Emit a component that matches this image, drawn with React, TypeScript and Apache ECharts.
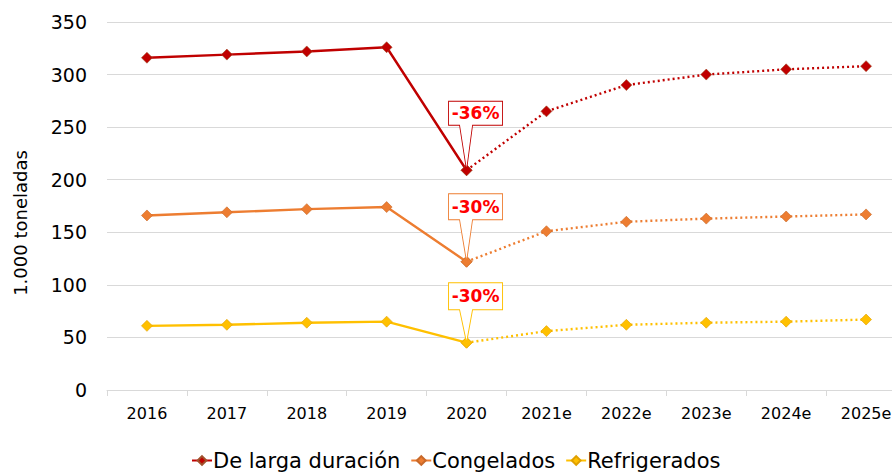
import React, { useEffect, useRef } from "react";
import * as echarts from "echarts";

const categories = ["2016", "2017", "2018", "2019", "2020", "2021e", "2022e", "2023e", "2024e", "2025e"];
const seriesNames = ["De larga duración", "Congelados", "Refrigerados"];
const largaDuracion = [316, 319, 322, 326, 209, 265, 290, 300, 305, 308];
const congelados = [166, 169, 172, 174, 122, 151, 160, 163, 165, 167];
const refrigerados = [61, 62, 64, 65, 45, 56, 62, 64, 65, 67];
const dropLabels = ["-36%", "-30%", "-30%"];
const yTicks = { min: 0, max: 350, interval: 50 };
const lastActualIndex = 4;

const colors = ["#C00000", "#ED7D31", "#FFC000"];
const markerBorders = ["#A0522D", "#C8692A", "#E0A000"];
const tailLengths = [45, 42, 33];
const boxHeights = [24, 26, 27];

function calloutPath(w: number, h: number, tail: number, tipX: number) {
  return `path://M0,0 L${w},0 L${w},${h} L${tipX + 6},${h} L${tipX},${h + tail} L${tipX - 7},${h} L0,${h} Z`;
}

export default function App() {
  const ref = useRef<HTMLDivElement>(null);
  useEffect(() => {
    if (!ref.current) return;
    const chart = echarts.init(ref.current, undefined, { renderer: "svg" });
    const all = [largaDuracion, congelados, refrigerados];
    const font = "DejaVu Sans";
    const series: any[] = [];
    all.forEach((vals, i) => {
      const solid = vals.map((v, j) => (j <= lastActualIndex ? v : null));
      const dotted = vals.map((v, j) => (j >= lastActualIndex ? v : null));
      const w = 54;
      const h = boxHeights[i];
      const tail = tailLengths[i];
      const tipX = 18;
      const total = h + tail;
      series.push({
        name: seriesNames[i],
        type: "line",
        data: solid,
        color: colors[i],
        symbol: "diamond",
        symbolSize: 11,
        itemStyle: { color: colors[i], borderColor: markerBorders[i], borderWidth: 0.6 },
        lineStyle: { width: 2.4, color: colors[i] },
        z: 3,
      });
      series.push({
        name: seriesNames[i] + " e",
        type: "line",
        data: dotted,
        symbol: "diamond",
        symbolSize: 11,
        itemStyle: { color: colors[i], borderColor: markerBorders[i], borderWidth: 0.6 },
        lineStyle: { width: 2.4, type: [2, 3], color: colors[i] },
        z: 3,
        markPoint: {
          symbol: calloutPath(w, h, tail, tipX),
          symbolSize: [w, total],
          symbolKeepAspect: false,
          symbolOffset: [w / 2 - tipX, -(total / 2)],
          itemStyle: { color: "#ffffff", borderColor: colors[i], borderWidth: 1 },
          label: {
            show: true,
            position: "inside",
            offset: [0, -(total / 2) + h / 2],
            formatter: dropLabels[i],
            color: "#FF0000",
            fontWeight: "bold",
            fontSize: 17,
            fontFamily: font,
          },
          z: 5,
          data: [{ coord: [categories[lastActualIndex], vals[lastActualIndex]] }],
        },
      });
    });

    chart.setOption({
      animation: false,
      textStyle: { fontFamily: font },
      grid: { left: 107, right: 0, top: 22, bottom: 82, containLabel: false },
      legend: {
        data: seriesNames,
        bottom: -4,
        left: 186,
        itemWidth: 20,
        itemHeight: 11,
        itemGap: 10,
        textStyle: { fontSize: 21, color: "#000", fontFamily: font, padding: [0, 0, 0, -4] },
      },
      xAxis: {
        type: "category",
        data: categories,
        boundaryGap: true,
        axisLine: { lineStyle: { color: "#d9d9d9", width: 1 } },
        axisTick: { show: true, length: 6, lineStyle: { color: "#d9d9d9" } },
        axisLabel: { fontSize: 16, color: "#000", margin: 15, fontFamily: font },
      },
      yAxis: {
        type: "value",
        min: yTicks.min,
        max: yTicks.max,
        interval: yTicks.interval,
        name: "1.000 toneladas",
        nameLocation: "middle",
        nameGap: 78,
        nameTextStyle: { fontSize: 18, color: "#000", fontFamily: font, padding: [0, 34, 0, 0] },
        axisLine: { show: false },
        axisTick: { show: false },
        splitLine: { lineStyle: { color: "#d9d9d9", width: 1 } },
        axisLabel: { fontSize: 19, color: "#000", margin: 20, fontFamily: font },
      },
      series,
    });
    return () => chart.dispose();
  }, []);
  return <div ref={ref} style={{ position: "absolute", left: 0, top: 0, width: 906, height: 472 }} />;
}
